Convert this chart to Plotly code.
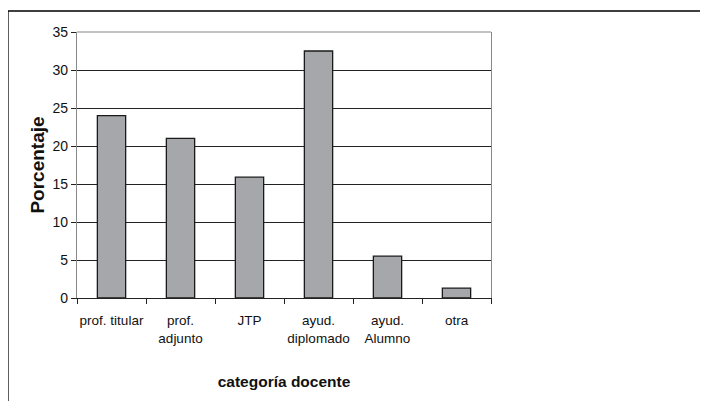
import plotly.graph_objects as go

categories = ["prof. titular", "prof.<br>adjunto", "JTP", "ayud.<br>diplomado", "ayud.<br>Alumno", "otra"]
values = [24.0, 21.0, 15.9, 32.5, 5.5, 1.3]
y_ticks = [0, 5, 10, 15, 20, 25, 30, 35]

regular = "Liberation Sans, Arial, sans-serif"

fig = go.Figure(go.Bar(
    x=categories, y=values,
    marker=dict(color="#A6A7AB", line=dict(color="#1a1a1a", width=1.3)),
    width=0.41,
))

fig.update_layout(
    width=700, height=393,
    margin=dict(l=69, r=217, t=24, b=103),
    paper_bgcolor="white", plot_bgcolor="white",
    font=dict(family=regular, size=13, color="#111"),
    showlegend=False,
    xaxis=dict(
        type="category",
        showline=True, linecolor="#222", linewidth=1.2,
        ticks="outside", tickson="boundaries", ticklen=5, tickcolor="#222",
        showgrid=False, tickangle=0, automargin=False,
        tickfont=dict(size=13.5),
        ticklabelstandoff=10,
        title=dict(text="<b>categoría docente</b>", font=dict(size=15.5), standoff=31),
    ),
    yaxis=dict(
        range=[0, 35], tickvals=y_ticks,
        showline=True, linecolor="#888", linewidth=1.2, mirror=True,
        ticks="outside", ticklen=5, tickcolor="#222",
        showgrid=True, gridcolor="#222", gridwidth=1,
        zeroline=False, automargin=False,
        tickfont=dict(size=14),
        title=dict(text="<b>Porcentaje</b>", font=dict(size=19), standoff=2),
    ),
    shapes=[
        dict(type="line", xref="paper", yref="paper", x0=0, x1=1, y0=1, y1=1,
             line=dict(color="#888", width=1.2)),
        dict(type="rect", xref="paper", yref="paper", x0=-0.1667, x1=1.6, y0=-0.5, y1=1.079,
             line=dict(color="#000", width=1.3), layer="above"),
    ],
)

fig.write_html("out.html")
